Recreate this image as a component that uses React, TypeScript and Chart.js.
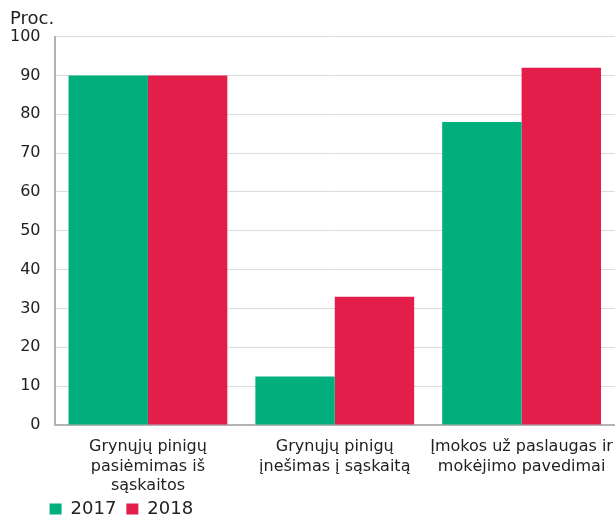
import React, { useEffect, useRef } from "react";
import { Chart, registerables } from "chart.js";

Chart.register(...registerables);

const categories: string[][] = [
  ["Grynųjų pinigų", "pasiėmimas iš", "sąskaitos"],
  ["Grynųjų pinigų", "įnešimas į sąskaitą"],
  ["Įmokos už paslaugas ir", "mokėjimo pavedimai"],
];
const series2017: number[] = [90, 12.5, 78];
const series2018: number[] = [90, 33, 92];
const seriesLabels: string[] = ["2017", "2018"];
const yTitle = "Proc.";

const FONT = "'DejaVu Sans', Verdana, sans-serif";

export default function App() {
  const ref = useRef<HTMLCanvasElement | null>(null);
  useEffect(() => {
    if (!ref.current) return;
    const legendShift = {
      id: "legendShift",
      afterLayout(chart: any) {
        const lg = chart.legend;
        if (lg && chart.chartArea) {
          const w = lg.right - lg.left;
          lg.left = chart.chartArea.left - 15;
          lg.right = lg.left + w;
          lg.top -= 7;
          lg.height += 7;
        }
      },
    };
    const chart = new Chart(ref.current, {
      type: "bar",
      data: {
        labels: categories,
        datasets: [
          {
            label: seriesLabels[0],
            data: series2017,
            backgroundColor: "#00AF7C",
            borderWidth: 0,
          },
          {
            label: seriesLabels[1],
            data: series2018,
            backgroundColor: "#E31E4A",
            borderWidth: 0,
          },
        ],
      },
      plugins: [legendShift],
      options: {
        animation: false,
        responsive: true,
        maintainAspectRatio: false,
        layout: { padding: { left: 10, right: 0, top: 0, bottom: 0 } },
        datasets: {
          bar: { categoryPercentage: 0.85, barPercentage: 1 },
        },
        plugins: {
          title: {
            display: true,
            text: yTitle,
            align: "start",
            color: "#222",
            font: { family: FONT, size: 18, weight: "normal" },
            padding: { top: 9, bottom: 6 },
          },
          legend: {
            position: "bottom",
            align: "start",
            maxHeight: 21,
            labels: {
              color: "#222",
              font: { family: FONT, size: 18 },
              boxWidth: 12,
              boxHeight: 11,
              padding: 10,
            },
          },
          tooltip: { enabled: false },
        },
        scales: {
          x: {
            grid: { display: false, drawTicks: false },
            border: { display: true, color: "#b3b3b3", width: 2 },
            ticks: {
              color: "#222",
              font: { family: FONT, size: 16, lineHeight: 1.23 },
              maxRotation: 0,
              autoSkip: false,
              padding: 12,
            },
            afterFit(scale: any) {
              scale.paddingLeft = 0;
              scale.paddingRight = 0;
              scale.height = scale.height - 11;
            },
          },
          y: {
            min: 0,
            max: 100,
            grid: { color: "#dcdcdc", drawTicks: false, lineWidth: 1 },
            border: { display: true, color: "#b3b3b3", width: 2 },
            ticks: {
              stepSize: 10,
              color: "#222",
              font: { family: FONT, size: 16 },
              padding: 14,
            },
            afterFit(scale: any) {
              scale.width = scale.width - 14;
            },
          },
        },
      },
    });
    return () => chart.destroy();
  }, []);
  return (
    <div style={{ position: "absolute", left: 0, top: 0, width: 615, height: 518 }}>
      <canvas ref={ref} />
    </div>
  );
}
